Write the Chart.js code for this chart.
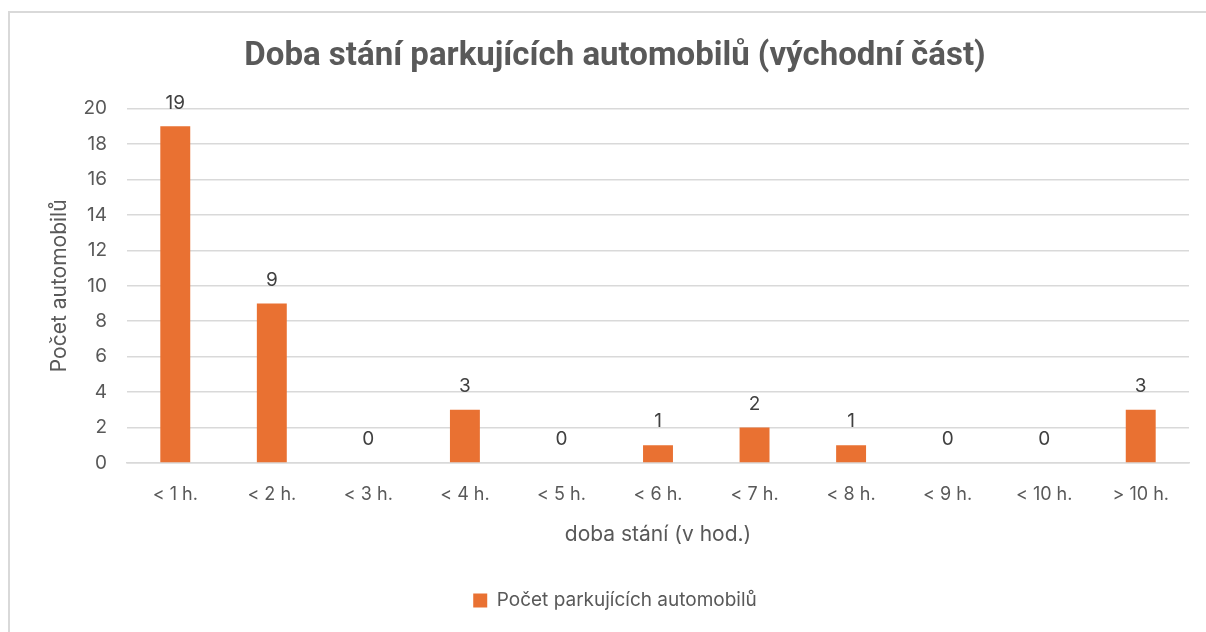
<!DOCTYPE html>
<html>
<head>
<meta charset="utf-8">
<script src="https://cdn.jsdelivr.net/npm/chart.js@4"></script>
<style>
  html, body { margin: 0; padding: 0; background: #fff; overflow: hidden; }
  #frame {
    position: absolute; left: 8px; top: 11px; width: 1220px; height: 660px;
    border: 2px solid #d9d9d9; box-sizing: border-box;
  }
  #wrap { position: absolute; left: 0; top: 0; width: 1206px; height: 632px; }
</style>
</head>
<body>
<div id="frame"></div>
<div id="wrap"><canvas id="parkingChart"></canvas></div>
<script>
// data
const categories = ['< 1 h.', '< 2 h.', '< 3 h.', '< 4 h.', '< 5 h.', '< 6 h.', '< 7 h.', '< 8 h.', '< 9 h.', '< 10 h.', '> 10 h.'];
const carCounts = [19, 9, 0, 3, 0, 1, 2, 1, 0, 0, 3];
const seriesName = 'Počet parkujících automobilů';
const chartTitle = 'Doba stání parkujících automobilů (východní část)';

const textColor = '#595959';
const fontFamily = 'Inter, "Open Sans", sans-serif';

// simple value labels above each bar
const valueLabels = {
    id: 'valueLabels',
    afterDatasetsDraw(chart) {
        const ctx = chart.ctx;
        ctx.save();
        ctx.font = '19px ' + fontFamily;
        ctx.fillStyle = '#404040';
        ctx.textAlign = 'center';
        ctx.textBaseline = 'bottom';
        chart.data.datasets.forEach((dataset, i) => {
            const meta = chart.getDatasetMeta(i);
            if (meta.hidden) return;
            meta.data.forEach((bar, index) => {
                ctx.fillText(String(dataset.data[index]), bar.x, bar.y - 14);
            });
        });
        ctx.restore();
    }
};

new Chart(document.getElementById('parkingChart'), {
    type: 'bar',
    data: {
        labels: categories,
        datasets: [{
            label: seriesName,
            data: carCounts,
            backgroundColor: '#E97132',
            categoryPercentage: 1,
            barPercentage: 0.31,
        }],
    },
    options: {
        responsive: true,
        maintainAspectRatio: false,
        animation: false,
        layout: { padding: { left: 41, right: 17, top: 37, bottom: 12 } },
        plugins: {
            title: {
                display: true,
                text: chartTitle,
                color: textColor,
                font: { family: 'Roboto, sans-serif', size: 33, weight: 'bold' },
                padding: { top: 0, bottom: 32 },
            },
            legend: {
                position: 'bottom',
                labels: {
                    color: textColor,
                    font: { family: fontFamily, size: 19 },
                    boxWidth: 14,
                    boxHeight: 14,
                    padding: 8,
                },
            },
            tooltip: { enabled: false },
        },
        scales: {
            x: {
                grid: { display: false },
                border: { color: '#d9d9d9', width: 1.5 },
                ticks: { color: textColor, font: { family: fontFamily, size: 18 }, padding: 13, maxRotation: 0 },
                title: {
                    display: true,
                    text: 'doba stání (v hod.)',
                    color: textColor,
                    font: { family: fontFamily, size: 21 },
                    padding: { top: 4, bottom: 36 },
                },
                afterFit(scale) { scale.height = 120; },
            },
            y: {
                min: 0,
                max: 20,
                ticks: { stepSize: 2, color: textColor, font: { family: fontFamily, size: 19 }, padding: 20 },
                grid: { color: '#d9d9d9', lineWidth: 1.5, drawTicks: false },
                border: { display: false },
                title: {
                    display: true,
                    text: 'Počet automobilů',
                    color: textColor,
                    font: { family: fontFamily, size: 21 },
                    padding: { top: 6, bottom: 4 },
                },
                afterFit(scale) { scale.width = 86; },
            },
        },
    },
    plugins: [valueLabels],
});
</script>
</body>
</html>
